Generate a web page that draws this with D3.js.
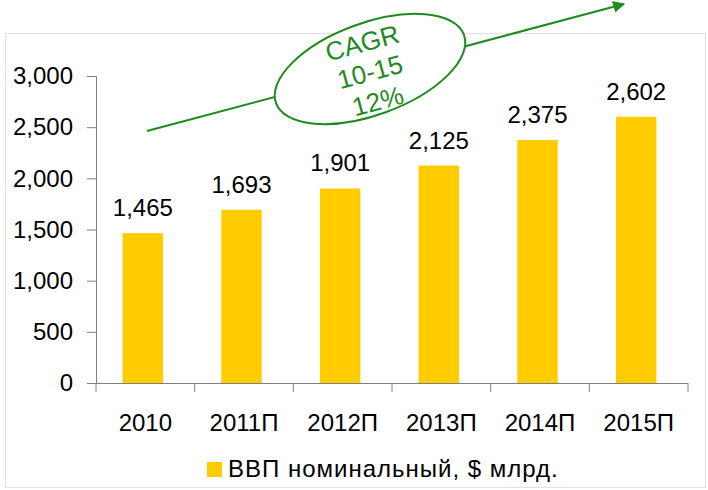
<!DOCTYPE html>
<html lang="ru">
<head>
<meta charset="UTF-8">
<title>ВВП номинальный</title>
<script src="https://d3js.org/d3.v7.min.js"></script>
<style>
  body { margin: 0; background: #fff; }
  text { font-family: "Liberation Sans", Arial, sans-serif; }
</style>
</head>
<body>
<script>
// chart data
const years = ["2010", "2011П", "2012П", "2013П", "2014П", "2015П"];
const gdp = [1465, 1693, 1901, 2125, 2375, 2602];
const yTicks = [0, 500, 1000, 1500, 2000, 2500, 3000];
const seriesName = "ВВП номинальный, $ млрд.";
const cagrLines = ["CAGR", "10-15", "12%"];

const width = 708, height = 490;
const green = "#1f8a1f";
const barShift = -2.5;

const svg = d3.select("body").append("svg")
    .attr("width", width)
    .attr("height", height);

// light frame round the plot
svg.append("rect")
    .attr("x", 5.5).attr("y", 33.5)
    .attr("width", 700).attr("height", 454)
    .attr("fill", "none")
    .attr("stroke", "#e0e0e0");

const x = d3.scaleBand().domain(years).range([96, 688]).paddingInner(0.59).paddingOuter(0.295);
const y = d3.scaleLinear().domain([0, 3000]).range([383, 76]);

// y axis
const yAxis = svg.append("g")
    .attr("transform", "translate(96,0)")
    .call(d3.axisLeft(y).tickValues(yTicks).tickFormat(d3.format(",")).tickSizeOuter(0).tickSize(9).tickPadding(14));
yAxis.select(".domain").attr("stroke", "#808080");
yAxis.selectAll(".tick line").attr("stroke", "#808080");
yAxis.selectAll(".tick text").attr("font-size", 24).attr("fill", "#000");

// bars
svg.selectAll(".bar")
    .data(gdp)
    .enter().append("rect")
    .attr("class", "bar")
    .attr("x", (d, i) => x(years[i]) + barShift)
    .attr("width", x.bandwidth())
    .attr("y", d => y(d))
    .attr("height", d => y(0) - y(d))
    .attr("fill", "#ffcc00");

// value labels
svg.selectAll(".val")
    .data(gdp)
    .enter().append("text")
    .attr("class", "val")
    .attr("x", (d, i) => x(years[i]) + x.bandwidth() / 2 + barShift)
    .attr("y", d => y(d) - 17)
    .attr("text-anchor", "middle")
    .attr("font-size", 24)
    .text(d => d3.format(",")(d));

// x axis with ticks between categories
svg.append("line")
    .attr("x1", 96).attr("x2", 688)
    .attr("y1", 383.5).attr("y2", 383.5)
    .attr("stroke", "#808080");
svg.selectAll(".xtick")
    .data(d3.range(years.length + 1))
    .enter().append("line")
    .attr("x1", i => 96 + i * x.step())
    .attr("x2", i => 96 + i * x.step())
    .attr("y1", 383).attr("y2", 392)
    .attr("stroke", "#808080");
svg.selectAll(".xlab")
    .data(years)
    .enter().append("text")
    .attr("x", d => x(d) + x.bandwidth() / 2)
    .attr("y", 431)
    .attr("text-anchor", "middle")
    .attr("font-size", 24)
    .text(d => d);

// legend
svg.append("rect")
    .attr("x", 207).attr("y", 462)
    .attr("width", 15).attr("height", 15)
    .attr("fill", "#ffcc00");
svg.append("text")
    .attr("x", 228).attr("y", 477)
    .attr("font-size", 24)
    .attr("letter-spacing", 1)
    .text(seriesName);

// CAGR arrow
const defs = svg.append("defs");
defs.append("marker")
    .attr("id", "arrow")
    .attr("viewBox", "0 0 10 10")
    .attr("refX", 9).attr("refY", 5)
    .attr("markerWidth", 6).attr("markerHeight", 6)
    .attr("orient", "auto")
    .append("path")
    .attr("d", "M0,0L10,5L0,10z")
    .attr("fill", green);

svg.append("line")
    .attr("x1", 147).attr("y1", 131)
    .attr("x2", 624).attr("y2", 4)
    .attr("stroke", green)
    .attr("stroke-width", 2)
    .attr("marker-end", "url(#arrow)");

const badge = svg.append("g").attr("transform", "translate(370,69) rotate(-20)");
badge.append("ellipse")
    .attr("rx", 100).attr("ry", 46)
    .attr("fill", "#fff")
    .attr("stroke", green)
    .attr("stroke-width", 2);

const label = svg.append("g").attr("transform", "translate(370,72) rotate(-15)");
label.selectAll("text")
    .data(cagrLines)
    .enter().append("text")
    .attr("x", 0)
    .attr("y", (d, i) => (i - 1) * 30 + 9)
    .attr("text-anchor", "middle")
    .attr("font-size", 26)
    .attr("fill", green)
    .text(d => d);
</script>
</body>
</html>
